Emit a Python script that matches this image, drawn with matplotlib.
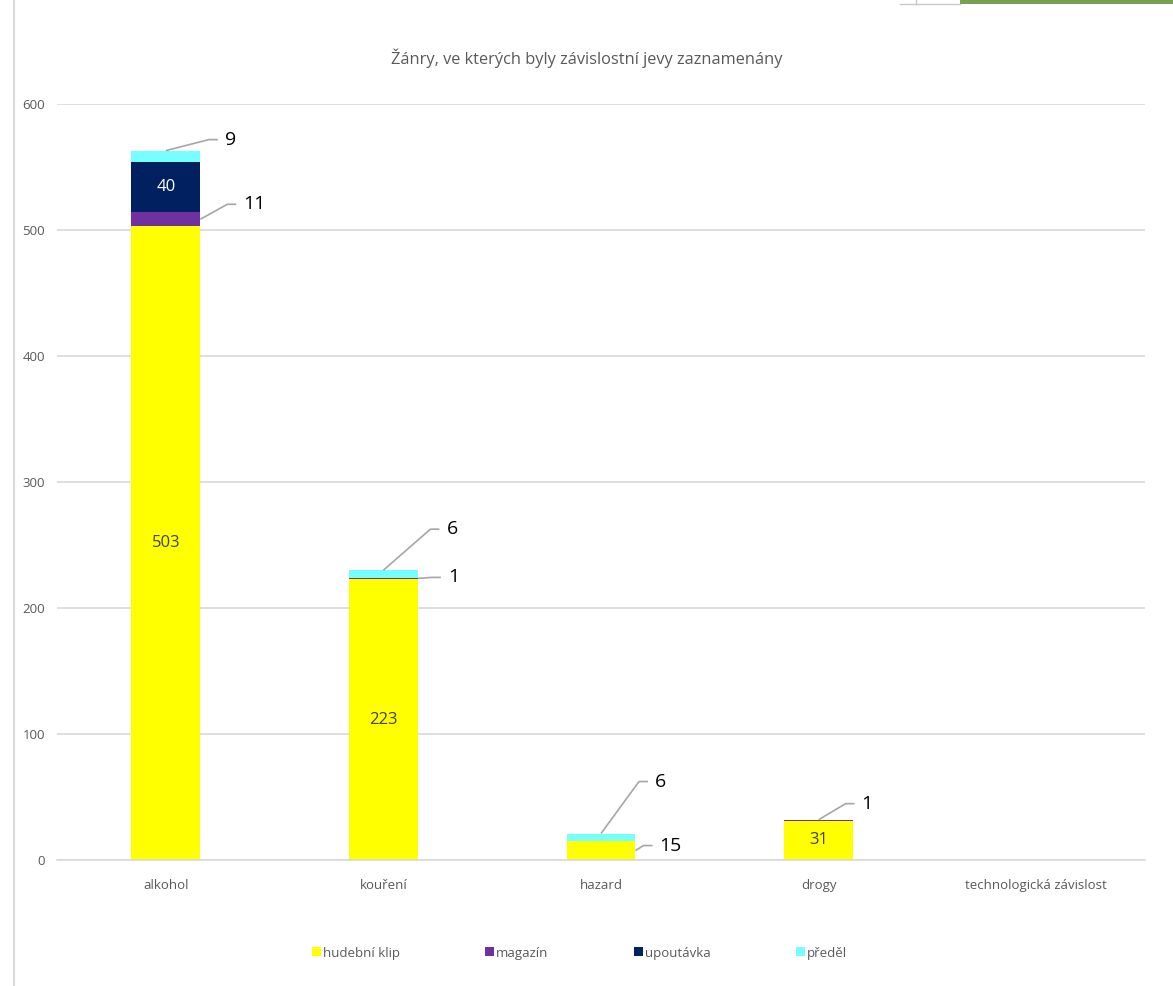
import matplotlib
matplotlib.use("Agg")
import matplotlib.pyplot as plt
from matplotlib.patches import Rectangle
from matplotlib.lines import Line2D
from matplotlib import font_manager
import numpy as np

# ---- data ----
categories = ["alkohol", "kouření", "hazard", "drogy", "technologická závislost"]
series_names = ["hudební klip", "magazín", "upoutávka", "předěl"]
hudebni_klip = [503, 223, 15, 31, 0]
magazin = [11, 1, 0, 1, 0]
upoutavka = [40, 0, 0, 0, 0]
predel = [9, 6, 6, 0, 0]
title = "Žánry, ve kterých byly závislostní jevy zaznamenány"
yticks = [0, 100, 200, 300, 400, 500, 600]

colors = ["#FFFF00", "#7030A0", "#002060", "#75FFFF"]

names = {f.name for f in font_manager.fontManager.ttflist}
fam = ["Liberation Sans Narrow", "DejaVu Sans"] if "Liberation Sans Narrow" in names else ["Open Sans", "DejaVu Sans"]
plt.rcParams["font.family"] = fam

fig = plt.figure(figsize=(11.73, 9.86), dpi=100)
ax = fig.add_axes([57/1173, 1-860/986, (1145-57)/1173, (860-104)/986])

x = np.arange(len(categories))
width = 0.317
data = [hudebni_klip, magazin, upoutavka, predel]
bottom = np.zeros(len(categories))
bottoms = []
for vals, c, n in zip(data, colors, series_names):
    vals = np.array(vals, dtype=float)
    ax.bar(x, vals, width, bottom=bottom, color=c, label=n, zorder=2, linewidth=0)
    bottoms.append(bottom.copy())
    bottom = bottom + vals

ax.set_xlim(-0.5, len(categories) - 0.5)
ax.set_ylim(0, 600)
ax.set_yticks(yticks)
ax.yaxis.grid(True, color="#D9D9D9", linewidth=1.2, zorder=0)
ax.set_axisbelow(True)
for s in ax.spines.values():
    s.set_visible(False)
ax.spines["bottom"].set_visible(True)
ax.spines["bottom"].set_color("#D9D9D9")
ax.spines["bottom"].set_linewidth(1.2)
ax.tick_params(axis="both", length=0, colors="#595959", labelsize=9.5)
ax.tick_params(axis="y", pad=8.5)
ax.tick_params(axis="x", pad=14)
ax.set_xticks(x)
ax.set_xticklabels(categories)

fig.text(0.5, 1 - 58/986, title, ha="center", va="center", fontsize=11.8, color="#595959")

# inside labels
def inside(i, s, color="#404040"):
    v = data[s][i]
    ax.text(x[i], bottoms[s][i] + v / 2, str(v), ha="center", va="center",
            fontsize=12, color=color, zorder=3)

inside(0, 0)
inside(0, 2, color="white")
inside(1, 0)
inside(3, 0)

# callout labels: (category, series, anchor side, dx px, dy px)
def callout(i, s, side, dx, dy):
    v = data[s][i]
    ya = bottoms[s][i] + (v if side == "top" else v / 2)
    xa = x[i] if side == "top" else x[i] + width / 2
    base = ax.transData.transform((xa, ya))
    inv = ax.transData.inverted()
    pts = [base, base + np.array([dx - 16, dy]), base + np.array([dx - 7, dy])]
    dpts = inv.transform(np.array(pts))
    ax.plot(dpts[:, 0], dpts[:, 1], color="#A6A6A6", linewidth=1.2, zorder=4,
            solid_capstyle="butt", clip_on=False)
    tx, ty = inv.transform(base + np.array([dx, dy]))
    ax.text(tx, ty, str(v), ha="left", va="center", fontsize=14, color="black",
            zorder=5, clip_on=False)

fig.canvas.draw()
callout(0, 3, "top", 59, 11)
callout(0, 1, "right", 43, 15)
callout(1, 3, "top", 63, 41)
callout(1, 1, "right", 30, 1)
callout(2, 3, "top", 54, 52)
callout(2, 0, "right", 24, 5)
callout(3, 1, "top", 43, 16)

leg = fig.legend(loc="center", bbox_to_anchor=(0.494, 1 - 953/986), ncol=4, frameon=False,
                 handlelength=0.65, handleheight=0.65, handletextpad=0.15,
                 columnspacing=6.5, fontsize=9.5)
for t in leg.get_texts():
    t.set_color("#595959")

# frame decorations
fig.add_artist(Line2D([14/1173, 14/1173], [0, 1], color="#D9D9D9", linewidth=1.5,
                      transform=fig.transFigure))
fig.add_artist(Line2D([900/1173, 960/1173], [1 - 4/986, 1 - 4/986], color="#C8C8C8",
                      linewidth=1, transform=fig.transFigure))
fig.add_artist(Line2D([916/1173, 916/1173], [1 - 4/986, 1], color="#C8C8C8",
                      linewidth=1, transform=fig.transFigure))
fig.add_artist(Rectangle((960/1173, 1 - 4/986), (1173-960)/1173, 4/986, color="#78A050",
                         transform=fig.transFigure, linewidth=0))

fig.savefig("out.png", dpi=100)
